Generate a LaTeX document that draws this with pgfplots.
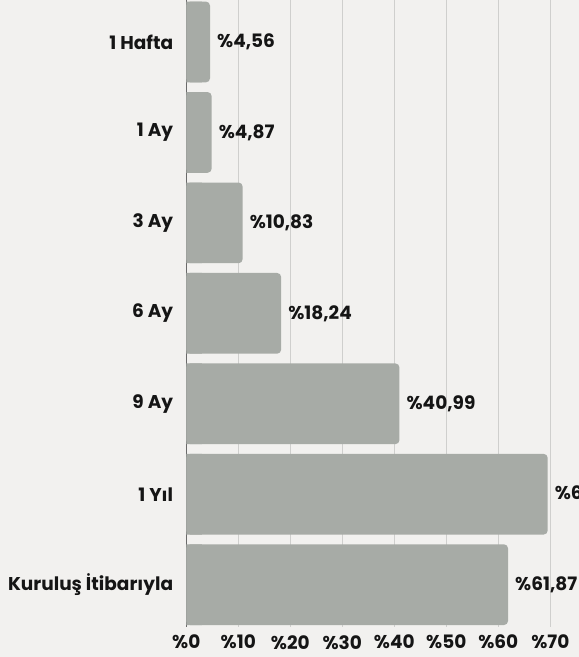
\documentclass[border=0pt]{standalone}
\usepackage{pgfplots}
\pgfplotsset{compat=1.18}
\usepackage{fontspec}
\setmainfont{Poppins}
\definecolor{bg}{HTML}{F2F1EF}
\definecolor{barc}{HTML}{A7ABA6}
\definecolor{txt}{HTML}{151515}
\definecolor{gridc}{HTML}{CFCFCD}
\definecolor{axc}{HTML}{6A6A6A}
\pgfplotstableread{
idx val
0 4.56
1 4.87
2 10.83
3 18.24
4 40.99
5 69.50
6 61.87
}\datatable
\newcommand{\lblfont}{\bfseries\fontsize{18.5}{21}\selectfont}
\begin{document}
\begin{tikzpicture}
\fill[bg] (-186.3pt,-30pt) rectangle (392.7pt,627pt);
\begin{axis}[
  at={(0pt,0pt)}, anchor=south west,
  scale only axis, width=416pt, height=627pt,
  xmin=0, xmax=80, ymin=-0.464, ymax=6.468,
  y dir=reverse,
  separate axis lines,
  x axis line style={draw=none},
  y axis line style={draw=axc, line width=0.8pt},
  xtick={0,10,...,70},
  xticklabel={\%\pgfmathprintnumber{\tick}},
  /pgf/number format/assume math mode=true,
  xmajorgrids,
  major grid style={draw=gridc, line width=0.8pt},
  ytick={0,...,6},
  yticklabels={1 Hafta,1 Ay,3 Ay,6 Ay,9 Ay,1 Yıl,Kuruluş İtibarıyla},
  major tick length=0pt,
  tick style={draw=none},
  xticklabel style={font=\lblfont, text=txt, inner sep=0pt, anchor=north, yshift=-8pt},
  yticklabel style={font=\lblfont, text=txt, inner sep=0pt, anchor=east, xshift=-13pt},
]
\addplot[xbar, bar shift=0pt, bar width=80.7pt, fill=barc, draw=none, rounded corners=4pt,
  point meta=x,
  nodes near coords={\%\pgfmathprintnumber[fixed,fixed zerofill,precision=2,use comma]{\pgfplotspointmeta}},
  every node near coord/.append style={font=\lblfont, text=txt, anchor=west, inner sep=0pt, xshift=7pt},
] table[x=val, y=idx] {\datatable};
\addplot[xbar, bar shift=0pt, bar width=80.7pt, fill=barc, draw=none,
  x filter/.expression={min(x,3)}] table[x=val, y=idx] {\datatable};
\end{axis}
\pgfresetboundingbox
\path[use as bounding box] (-186.3pt,-30pt) rectangle (392.7pt,627pt);
\end{tikzpicture}
\end{document}
